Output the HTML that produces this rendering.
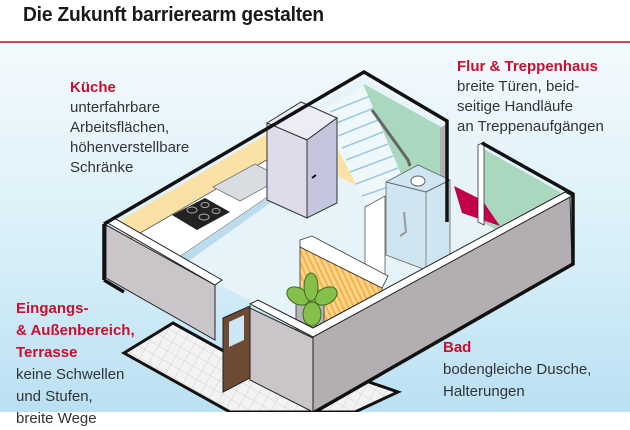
<!DOCTYPE html>
<html><head><meta charset="utf-8"><style>
html,body{margin:0;padding:0}
body{width:630px;height:412px;overflow:hidden;position:relative;font-family:"Liberation Sans",sans-serif;background:#fff}
#bg{position:absolute;left:0;top:42px;width:630px;height:370px;background:linear-gradient(#f4fafd,#d6eef8 60%,#b9e0f3)}
#line{position:absolute;left:0;top:41px;width:630px;height:1.5px;background:#d2485a}
h1{position:absolute;left:23px;top:4px;margin:0;font-size:20px;font-weight:bold;color:#1a1a1a;letter-spacing:-0.2px;transform:scaleX(0.96);transform-origin:left;white-space:nowrap}
.t{position:absolute;font-size:15px;line-height:20px;color:#333;white-space:nowrap}
.t b{color:#c8102e}
svg{position:absolute;left:0;top:0}
</style></head><body>
<div id="bg"></div><div id="line"></div>
<h1>Die Zukunft barrierearm gestalten</h1>
<svg width="630" height="412" viewBox="0 0 630 412">
<defs>
<pattern id="tile" width="10" height="10" patternUnits="userSpaceOnUse" patternTransform="rotate(30)">
<rect width="10" height="10" fill="#f3f3f3"/><path d="M0 0H10M0 0V10" stroke="#c8c8c8" stroke-width="0.8"/></pattern>
<pattern id="str" width="5" height="10" patternUnits="userSpaceOnUse" patternTransform="rotate(-25)">
<rect width="5" height="10" fill="#fbd58c"/><rect width="2" height="10" fill="#f6b24a"/></pattern>
</defs>
<polygon points="124,353 173,323 240,360 340,372 398,392 355,412 230,412" fill="url(#tile)" stroke="#111" stroke-width="3"/>
<polygon points="112,226 364,78 570,198 313,335 215,282" fill="#e6f3f9"/>
<polygon points="118,222 270,132 270,162 130,242" fill="#fbe1a6"/>
<polygon points="338,138 385,164 385,200 338,176" fill="#fbe1a6"/>
<polygon points="364,84 443,128 443,215 364,170" fill="#a9d8bf"/>
<polygon points="318,112 364,86 412,200 372,214" fill="#eef7fa"/>
<g stroke="#9cc9dd" stroke-width="1.5">
<line x1="330" y1="112" x2="370" y2="96"/><line x1="334" y1="124" x2="374" y2="108"/><line x1="338" y1="136" x2="378" y2="120"/><line x1="342" y1="148" x2="383" y2="132"/><line x1="346" y1="160" x2="388" y2="144"/><line x1="350" y1="172" x2="393" y2="156"/><line x1="356" y1="184" x2="398" y2="168"/><line x1="362" y1="196" x2="403" y2="182"/></g>
<path d="M372 110 L408 160 L410 166" stroke="#666" stroke-width="3" fill="none"/>
<polygon points="440,128 446,124 446,220 440,222" fill="#b3aeb2"/>
<polygon points="482,148 560,192 560,205 500,232 482,222" fill="#a9d8bf"/>
<polygon points="454,186 482,200 500,226 462,213" fill="#c2004a"/>
<polygon points="478,145 484,142 484,225 478,222" fill="#fff" stroke="#333" stroke-width="0.8"/>
<polygon points="128,240 270,158 300,175 172,262" fill="#fff" stroke="#555" stroke-width="0.8"/>
<polygon points="172,262 300,175 300,182 176,270" fill="#bcdcee"/>
<polygon points="172,215 205,198 230,212 197,230" fill="#222"/>
<g fill="none" stroke="#aaa" stroke-width="1"><ellipse cx="192" cy="210" rx="5" ry="3"/><ellipse cx="204" cy="217" rx="5" ry="3"/><ellipse cx="205" cy="205" rx="4" ry="2.5"/><ellipse cx="216" cy="211" rx="4" ry="2.5"/></g>
<polygon points="213,187 255,164 282,178 240,201" fill="#d8dde2" stroke="#777" stroke-width="0.8"/>
<polygon points="267,123 301,102 337,118 307,140" fill="#ececf6" stroke="#333" stroke-width="1"/>
<polygon points="267,123 307,140 307,218 267,200" fill="#dcdcea" stroke="#333" stroke-width="1"/>
<polygon points="307,140 337,118 337,203 307,218" fill="#c4c6dd" stroke="#333" stroke-width="1"/>
<line x1="312" y1="178" x2="316" y2="175" stroke="#111" stroke-width="2"/>
<polygon points="365,207 385,196 385,276 365,272" fill="#fff" stroke="#555" stroke-width="0.8"/>
<polygon points="386,182 418,165 450,180 450,255 426,270 386,255" fill="#cfe6f2" stroke="#666" stroke-width="0.8"/>
<line x1="426" y1="192" x2="426" y2="270" stroke="#888"/>
<polyline points="386,182 426,192 450,180" fill="none" stroke="#666"/>
<ellipse cx="418" cy="181" rx="7" ry="5" fill="#fff" stroke="#666"/>
<path d="M404 212 L406 232 L400 236" stroke="#999" stroke-width="2" fill="none"/>
<polygon points="300,247 382,288 382,296 326,324 300,318" fill="url(#str)" stroke="#333" stroke-width="0.8"/>
<polygon points="300,240 312,236 388,276 382,288 300,247" fill="#fff" stroke="#333" stroke-width="0.8"/>
<rect x="296" y="302" width="28" height="28" fill="#b7b5b8" stroke="#333" stroke-width="0.8"/>
<g fill="#86bf4a" stroke="#3b6e22" stroke-width="1">
<ellipse cx="298" cy="296" rx="12" ry="8" transform="rotate(30 298 296)"/>
<ellipse cx="326" cy="296" rx="12" ry="8" transform="rotate(-30 326 296)"/>
<ellipse cx="311" cy="287" rx="7" ry="14"/>
<ellipse cx="312" cy="314" rx="9" ry="12"/></g>
<polygon points="106,225 215,285 215,340 106,278" fill="#c9c5c9" stroke="#222" stroke-width="1"/>
<polygon points="106,222 114,218 222,280 215,285" fill="#fff" stroke="#222" stroke-width="1"/>
<polygon points="223,318 250,306 250,378 223,392" fill="#6f4a32" stroke="#222" stroke-width="1"/>
<polygon points="229,322 244,315 244,340 229,347" fill="#cde6f3"/>
<polygon points="250,308 313,338 313,412 250,380" fill="#c9c5c9" stroke="#222" stroke-width="1"/>
<polygon points="313,335 570,197 572,264 313,412" fill="#b3aeb2" stroke="#222" stroke-width="1"/>
<polygon points="250,304 258,300 313,328 565,192 572,196 313,337" fill="#fff" stroke="#222" stroke-width="1"/>
<g stroke="#111" stroke-width="3.5" fill="none">
<polyline points="104,224 364,72 447,121 447,222"/>
<polyline points="482,143 573,194 573,264 313,413"/>
<line x1="104" y1="224" x2="104" y2="280"/>
<line x1="104" y1="280" x2="124" y2="292"/>
</g>
</svg>
<div class="t" style="left:70px;top:78px"><b>Küche</b><br>unterfahrbare<br>Arbeitsflächen,<br>höhenverstellbare<br>Schränke</div>
<div class="t" style="left:457px;top:57px"><b>Flur &amp; Treppenhaus</b><br>breite Türen, beid-<br>seitige Handläufe<br>an Treppenaufgängen</div>
<div class="t" style="left:16px;top:298px;line-height:22px"><b>Eingangs-<br>&amp; Außenbereich,<br>Terrasse</b><br>keine Schwellen<br>und Stufen,<br>breite Wege</div>
<div class="t" style="left:443px;top:337px;line-height:22px"><b>Bad</b><br>bodengleiche Dusche,<br>Halterungen</div>
</body></html>
